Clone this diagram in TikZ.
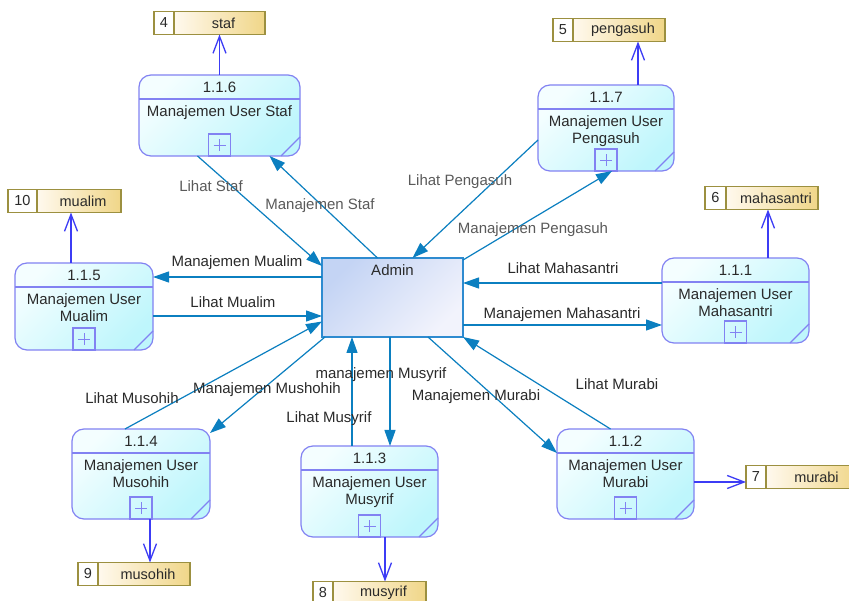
\documentclass[tikz,border=0pt]{standalone}
\usepackage{fontspec}
\setmainfont{Liberation Sans}
\usetikzlibrary{arrows.meta,calc}
\definecolor{flowc}{HTML}{0B7FC0}
\definecolor{procb}{HTML}{8282F2}
\definecolor{storeb}{HTML}{9C9040}
\definecolor{storearr}{HTML}{3C3CF5}
\definecolor{admb}{HTML}{2E8BD0}
\definecolor{admtop}{HTML}{C4D4F4}
\definecolor{admbot}{HTML}{F2F3FC}
\definecolor{proctop}{HTML}{F4FEFF}
\definecolor{procbot}{HTML}{BEF6FC}
\definecolor{stleft}{HTML}{FFF9EE}
\definecolor{stright}{HTML}{F0D688}
\definecolor{txt}{HTML}{2A2A2A}
\definecolor{txtg}{HTML}{5A5A5A}
\tikzset{
  procbox/.style={draw=procb, line width=1.2pt, rounded corners=12pt, top color=proctop, bottom color=procbot, shading angle=45, inner sep=0pt, outer sep=0pt},
  procline/.style={draw=procb, line width=1.1pt},
  proctitle/.style={font=\fontsize{15}{17}\selectfont, text=txt, inner sep=0pt},
  proctext/.style={font=\fontsize{15}{17}\selectfont, text=txt, inner sep=0pt, align=center, anchor=north},
  plusbox/.style={draw=procb, line width=1.1pt, minimum size=22pt, inner sep=0pt, outer sep=0pt},
  plussign/.style={draw=procb, line width=0.9pt},
  storebox/.style={draw=storeb, line width=1.2pt, fill=white, inner sep=0pt, outer sep=0pt},
  storetext/.style={font=\fontsize{14.5}{16}\selectfont, text=txt, inner sep=0pt},
  flow/.style={draw=flowc, line width=1.2pt, -{Triangle[length=16pt,width=11pt]}},
  sflow/.style={draw=storearr, line width=1.3pt, -{Straight Barb[length=17pt,width=13pt]}},
  lbl/.style={font=\fontsize{15}{17}\selectfont, text=txt, inner sep=0pt},
  lblg/.style={font=\fontsize{15}{17}\selectfont, text=txtg, inner sep=0pt},
}
\newcommand\mkproc[7]{%
  \node[procbox, minimum width=#4pt, minimum height=#5pt] (#1) at (#2,#3) {};
  \draw[procline] ([yshift=-24pt]#1.north west) -- ([yshift=-24pt]#1.north east);
  \node[proctitle] (#1-t) at ([yshift=-12.5pt]#1.north) {#6};
  \node[proctext] (#1-x) at ([yshift=-30pt]#1.north) {#7};
  \node[plusbox, anchor=south] (#1-p) at (#1.south) {};
  \draw[plussign] ([xshift=-6pt]#1-p.center) -- ([xshift=6pt]#1-p.center)
                  ([yshift=-6pt]#1-p.center) -- ([yshift=6pt]#1-p.center);
  \draw[procline] ([yshift=19pt]#1.south east) -- ([xshift=-19pt]#1.south east);
}
\newcommand\mkstore[7]{%
  \node[storebox, minimum width=#4pt, minimum height=23pt] (#1) at (#2,#3) {};
  \shade[left color=stleft, right color=stright] ([xshift=#5pt]#1.north west) rectangle (#1.south east);
  \draw[storeb, line width=1.2pt] (#1.north west) rectangle (#1.south east);
  \draw[storeb, line width=1.2pt] ([xshift=#5pt]#1.north west) -- ([xshift=#5pt]#1.south west);
  \node[storetext] (#1-n) at ($(#1.north west)!0.5!([xshift=#5pt]#1.south west)$) {#6};
  \node[storetext] (#1-l) at ($([xshift=#5pt]#1.north west)!0.5!(#1.south east)+(4,0)$) {#7};
}
\begin{document}
\begin{tikzpicture}[x=1pt,y=-1pt]
\useasboundingbox[fill=white] (0,0) rectangle (849,601);

% Admin
\node[draw=admb, line width=1.3pt, top color=admtop, bottom color=admbot, shading angle=45,
      minimum width=141pt, minimum height=79pt, inner sep=0pt, outer sep=0pt] (admin) at (392.5,297.5) {};
\node[lbl] (admin-t) at ([yshift=-12pt]admin.north) {Admin};

% processes
\mkproc{p116}{219.5}{115.5}{161}{81}{1.1.6}{Manajemen User Staf}
\mkproc{p117}{606}{128}{136}{86}{1.1.7}{Manajemen User\\Pengasuh}
\mkproc{p115}{84}{306.5}{138}{87}{1.1.5}{Manajemen User\\Mualim}
\mkproc{p111}{735.5}{300.5}{147}{85}{1.1.1}{Manajemen User\\Mahasantri}
\mkproc{p114}{141}{474}{138}{90}{1.1.4}{Manajemen User\\Musohih}
\mkproc{p113}{369.5}{491.5}{137}{91}{1.1.3}{Manajemen User\\Musyrif}
\mkproc{p112}{625.5}{474}{137}{90}{1.1.2}{Manajemen User\\Murabi}

% stores
\mkstore{sstaf}{209.5}{23}{111}{20}{4}{staf}
\mkstore{speng}{609}{30}{112}{20}{5}{pengasuh}
\mkstore{smual}{64.5}{201}{113}{29}{10}{mualim}
\mkstore{smaha}{761.5}{198}{113}{21}{6}{mahasantri}
\mkstore{smuso}{134}{574}{112}{20}{9}{musohih}
\mkstore{smusy}{369.5}{593}{113}{20}{8}{musyrif}
\mkstore{smura}{802.5}{477}{113}{20}{7}{murabi}

% store flows
\draw[sflow] (p116.north) -- (p116.north |- sstaf.south);
\coordinate (s2) at ([xshift=32pt]p117.north);
\draw[sflow] (s2) -- (s2 |- speng.south);
\coordinate (s3) at ([xshift=-13pt]p115.north);
\draw[sflow] (s3) -- (s3 |- smual.south);
\coordinate (s4) at ([xshift=32.5pt]p111.north);
\draw[sflow] (s4) -- (s4 |- smaha.south);
\coordinate (s5) at ([xshift=9pt]p114.south);
\draw[sflow] (s5) -- (s5 |- smuso.north);
\coordinate (s6) at ([xshift=15.5pt]p113.south);
\draw[sflow] (s6) -- (s6 |- smusy.north);
\coordinate (s7) at ([yshift=-8pt]p112.east);
\draw[sflow] (s7) -- (s7 -| smura.west);

% data flows
\draw[flow] ([xshift=-22pt]p116.south) -- ([yshift=-8pt]admin.north west);
\draw[flow] ([xshift=-15pt]admin.north) -- ([xshift=50pt]p116.south);
\draw[flow] ([yshift=-12pt]p117.west) -- ([xshift=20pt]admin.north);
\draw[flow] ([yshift=-2pt]admin.north east) -- ([xshift=6pt]p117.south);
\coordinate (c1) at ([yshift=20.5pt]admin.west);
\draw[flow] (c1) -- (c1 -| p115.east);
\coordinate (c2) at ([yshift=-18.5pt]admin.west);
\draw[flow] (c2 -| p115.east) -- (c2);
\coordinate (c3) at ([yshift=14.5pt]admin.east);
\draw[flow] (c3 -| p111.west) -- (c3);
\coordinate (c4) at ([yshift=-27.5pt]admin.east);
\draw[flow] (c4) -- (c4 -| p111.west);
\draw[flow] ([xshift=-16pt]p114.north) -- ([yshift=-24pt]admin.west);
\draw[flow] ([xshift=3pt]admin.south west) -- ([yshift=-4pt]p114.north east);
\coordinate (c5) at ([xshift=-17.5pt]p113.north);
\draw[flow] (c5) -- (c5 |- admin.south);
\coordinate (c6) at ([xshift=-2.5pt]admin.south);
\draw[flow] (c6) -- (c6 |- p113.north);
\draw[flow] ([xshift=35.5pt]admin.south) -- ([yshift=21pt]p112.west);
\draw[flow] ([xshift=-15pt]p112.north) -- (admin.south east);

% labels
\node[lblg] (l1) at (211,186) {Lihat Staf};
\node[lblg] (l2) at (320,206) {Manajemen Staf};
\node[lblg] (l3) at (460,182) {Lihat Pengasuh};
\node[lblg] (l4) at (533,230) {Manajemen Pengasuh};
\node[lbl] (l5) at (237,263) {Manajemen Mualim};
\node[lbl] (l6) at (233,302) {Lihat Mualim};
\node[lbl] (l7) at (563,268) {Lihat Mahasantri};
\node[lbl] (l8) at (562,315) {Manajemen Mahasantri};
\node[lbl] (l9) at (132,398) {Lihat Musohih};
\node[lbl] (l10) at (267,390) {Manajemen Mushohih};
\node[lbl] (l11) at (381,375) {manajemen Musyrif};
\node[lbl] (l12) at (329,419) {Lihat Musyrif};
\node[lbl] (l13) at (476,397) {Manajemen Murabi};
\node[lbl] (l14) at (617,384) {Lihat Murabi};
\end{tikzpicture}
\end{document}
